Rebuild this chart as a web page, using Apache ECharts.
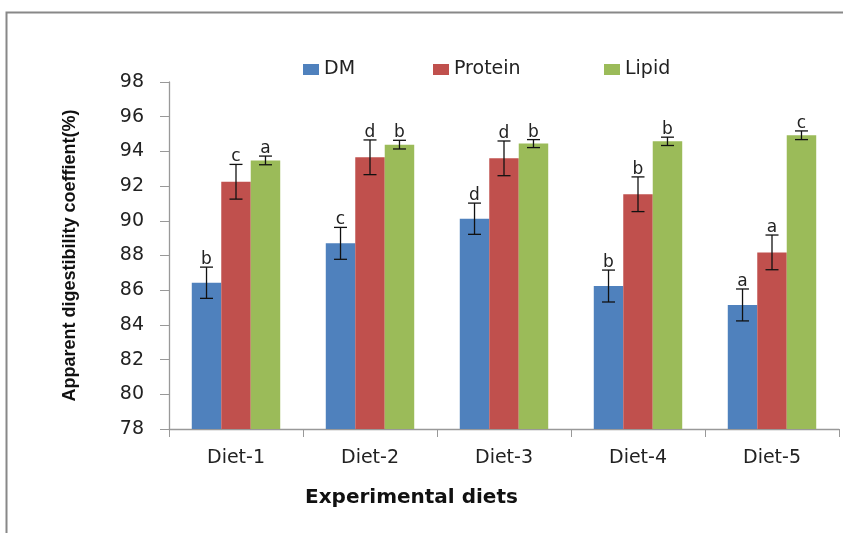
<!DOCTYPE html>
<html><head><meta charset="utf-8">
<script src="https://cdn.jsdelivr.net/npm/echarts@6/dist/echarts.min.js"></script>
<style>html,body{margin:0;padding:0;background:#fff}#c{width:843px;height:533px}</style>
</head><body><div id="c"></div>
<script>
const categories = ['Diet-1','Diet-2','Diet-3','Diet-4','Diet-5'];
const seriesNames = ['DM','Protein','Lipid'];
const dm = [86.43, 88.7, 90.12, 86.24, 85.15];
const protein = [92.25, 93.66, 93.6, 91.53, 88.18];
const lipid = [93.48, 94.39, 94.45, 94.58, 94.93];
const dmErr = [0.9, 0.92, 0.9, 0.92, 0.92];
const proteinErr = [1.0, 1.0, 1.0, 1.0, 1.0];
const lipidErr = [0.25, 0.25, 0.23, 0.24, 0.25];
const dmLetters = ['b','c','d','b','a'];
const proteinLetters = ['c','d','d','b','a'];
const lipidLetters = ['a','b','b','b','c'];
const yTicks = [78,80,82,84,86,88,90,92,94,96,98];
const xTitle = 'Experimental diets';
const yTitle = 'Apparent digestibility coeffient(%)';

const colors = ['#4F81BD','#C0504D','#9BBB59'];
const catGap = 0.34;
const FONT = 'DejaVu Sans';

function errSeries(vals, errs, letters, idx) {
  return {
    type: 'custom',
    z: 10,
    silent: true,
    data: vals.map((v,i)=>[i, v, errs[i], letters[i]]),
    renderItem: function(params, api) {
      const ci = api.value(0), v = api.value(1), e = api.value(2);
      const bandW = api.size([1,0])[0];
      const w = bandW * (1 - catGap) / 3;
      const c = api.coord([ci, v]);
      const x = c[0] + (idx - 1) * w;
      const top = api.coord([ci, v + e])[1];
      const bot = api.coord([ci, v - e])[1];
      const cap = 6.5;
      const st = {stroke:'#111', lineWidth:1.3};
      return {type:'group', children:[
        {type:'line', shape:{x1:x,y1:top,x2:x,y2:bot}, style:st},
        {type:'line', shape:{x1:x-cap,y1:top,x2:x+cap,y2:top}, style:st},
        {type:'line', shape:{x1:x-cap,y1:bot,x2:x+cap,y2:bot}, style:st},
        {type:'text', x:x, y:top+1, style:{text:api.value(3), fill:'#222', font:'17px "'+FONT+'"', textAlign:'center', textVerticalAlign:'bottom'}}
      ]};
    }
  };
}

function legendAt(name, left) {
  return {
    top:55, left:left, itemWidth:16, itemHeight:11, icon:'rect',
    textStyle:{fontFamily:FONT, fontSize:19, color:'#222', padding:[0,0,0,0]},
    data:[name]
  };
}

const chart = echarts.init(document.getElementById('c'), null, {renderer:'canvas'});
chart.setOption({
  animation:false,
  backgroundColor:'#fff',
  graphic:[
    {type:'rect', shape:{x:6.5,y:12.5,width:900,height:600}, style:{fill:'none', stroke:'#888', lineWidth:2}, z:-10},
    {type:'text', left:305, top:488, style:{text:xTitle, font:'bold 20px "'+FONT+'"', fill:'#111'}}
  ],
  legend:[legendAt(seriesNames[0], 298), legendAt(seriesNames[1], 428), legendAt(seriesNames[2], 599)],
  grid:{left:169, right:4, top:82, bottom:104, containLabel:false},
  xAxis:{
    type:'category', data:categories,
    axisLine:{lineStyle:{color:'#999', width:1.3}},
    axisTick:{show:true, length:8, lineStyle:{color:'#999'}},
    axisLabel:{fontFamily:FONT, fontSize:19, color:'#222', margin:20}
  },
  yAxis:{
    type:'value', min:78, max:98, interval:2,
    axisLine:{show:true, lineStyle:{color:'#999', width:1.3}},
    axisTick:{show:true, length:9, lineStyle:{color:'#999'}},
    splitLine:{show:false},
    axisLabel:{fontFamily:FONT, fontSize:19, color:'#222', margin:25,
      formatter:function(v){return yTicks.indexOf(v)>=0 ? String(v) : '';}},
    name:yTitle, nameLocation:'middle', nameGap:90,
    nameTextStyle:{fontFamily:'Liberation Sans', fontSize:18, fontWeight:'bold', color:'#111'}
  },
  series:[
    {name:seriesNames[0], type:'bar', data:dm, itemStyle:{color:colors[0]}, barGap:'0%', barCategoryGap:(catGap*100)+'%'},
    {name:seriesNames[1], type:'bar', data:protein, itemStyle:{color:colors[1]}, barGap:'0%', barCategoryGap:(catGap*100)+'%'},
    {name:seriesNames[2], type:'bar', data:lipid, itemStyle:{color:colors[2]}, barGap:'0%', barCategoryGap:(catGap*100)+'%'},
    errSeries(dm, dmErr, dmLetters, 0),
    errSeries(protein, proteinErr, proteinLetters, 1),
    errSeries(lipid, lipidErr, lipidLetters, 2)
  ]
});
</script></body></html>
